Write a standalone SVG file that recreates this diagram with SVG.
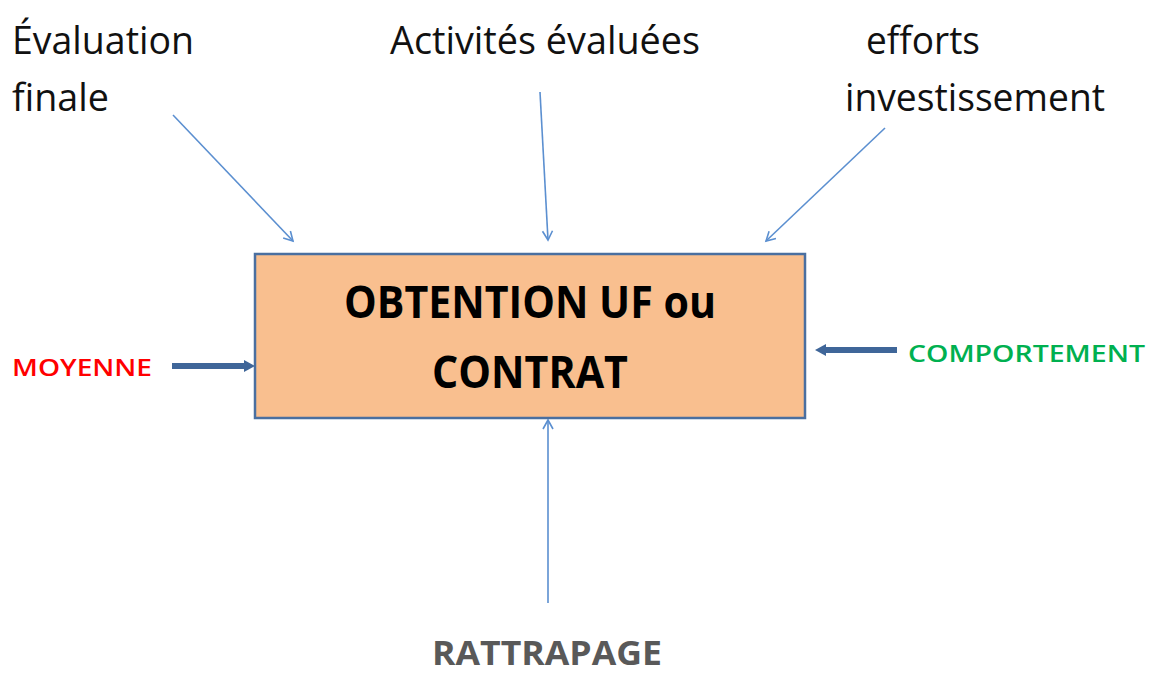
<svg xmlns="http://www.w3.org/2000/svg" width="1155" height="674" viewBox="0 0 1155 674">
<style>
.lbl{font-family:"Open Sans","Liberation Sans",sans-serif;font-size:38px;fill:#111}
.thin{stroke:#5b8fd0;stroke-width:1.6;fill:none}
.thick{stroke:#3f6699;stroke-width:6;fill:none}
.title{font-family:"Open Sans","Liberation Sans",sans-serif;font-size:44px;font-weight:bold;fill:#000}
</style>
<defs>
<marker id="open" markerWidth="14" markerHeight="14" refX="10" refY="6" orient="auto" markerUnits="userSpaceOnUse">
<path d="M1,1 L10,6 L1,11" fill="none" stroke="#5b8fd0" stroke-width="1.6"/>
</marker>
<marker id="solid" markerWidth="12" markerHeight="14" refX="0" refY="7" orient="auto" markerUnits="userSpaceOnUse">
<path d="M0,1 L11,7 L0,13 Z" fill="#3f6699"/>
</marker>
</defs>
<rect width="1155" height="674" fill="#fff"/>
<g id="connectors">
<line class="thin" x1="173" y1="115" x2="293" y2="241" marker-end="url(#open)"/>
<line class="thin" x1="540" y1="92" x2="548" y2="240" marker-end="url(#open)"/>
<line class="thin" x1="885" y1="128" x2="766" y2="241" marker-end="url(#open)"/>
<line class="thin" x1="548" y1="603" x2="548" y2="420" marker-end="url(#open)"/>
<line class="thick" x1="172" y1="366" x2="244" y2="366" marker-end="url(#solid)"/>
<line class="thick" x1="897" y1="350" x2="826" y2="350" marker-end="url(#solid)"/>
</g>
<g id="box">
<rect x="255" y="254" width="550" height="164" fill="#f9bf8f" stroke="#4a6fa0" stroke-width="2.5"/>
<text class="title" x="530" y="318" text-anchor="middle" textLength="372" lengthAdjust="spacingAndGlyphs">OBTENTION UF ou</text>
<text class="title" x="530" y="388" text-anchor="middle" textLength="196" lengthAdjust="spacingAndGlyphs">CONTRAT</text>
</g>
<g id="eval">
<text class="lbl" x="12" y="54" textLength="182" lengthAdjust="spacingAndGlyphs">Évaluation</text>
<text class="lbl" x="12" y="111" textLength="97" lengthAdjust="spacingAndGlyphs">finale</text>
</g>
<g id="activites">
<text class="lbl" x="390" y="54" textLength="310" lengthAdjust="spacingAndGlyphs">Activités évaluées</text>
</g>
<g id="efforts">
<text class="lbl" x="866" y="54" textLength="114" lengthAdjust="spacingAndGlyphs">efforts</text>
<text class="lbl" x="845" y="111" textLength="260" lengthAdjust="spacingAndGlyphs">investissement</text>
</g>
<g id="moyenne">
<text x="12" y="376" font-family="Open Sans, Liberation Sans, sans-serif" font-size="24" font-weight="600" fill="#ff0000" textLength="140" lengthAdjust="spacingAndGlyphs">MOYENNE</text>
</g>
<g id="comportement">
<text x="908" y="362" font-family="Open Sans, Liberation Sans, sans-serif" font-size="24" font-weight="600" fill="#00b050" textLength="237" lengthAdjust="spacingAndGlyphs">COMPORTEMENT</text>
</g>
<g id="rattrapage">
<text x="432" y="665" font-family="Open Sans, Liberation Sans, sans-serif" font-size="34" font-weight="bold" fill="#595959" textLength="230" lengthAdjust="spacingAndGlyphs">RATTRAPAGE</text>
</g>
</svg>
